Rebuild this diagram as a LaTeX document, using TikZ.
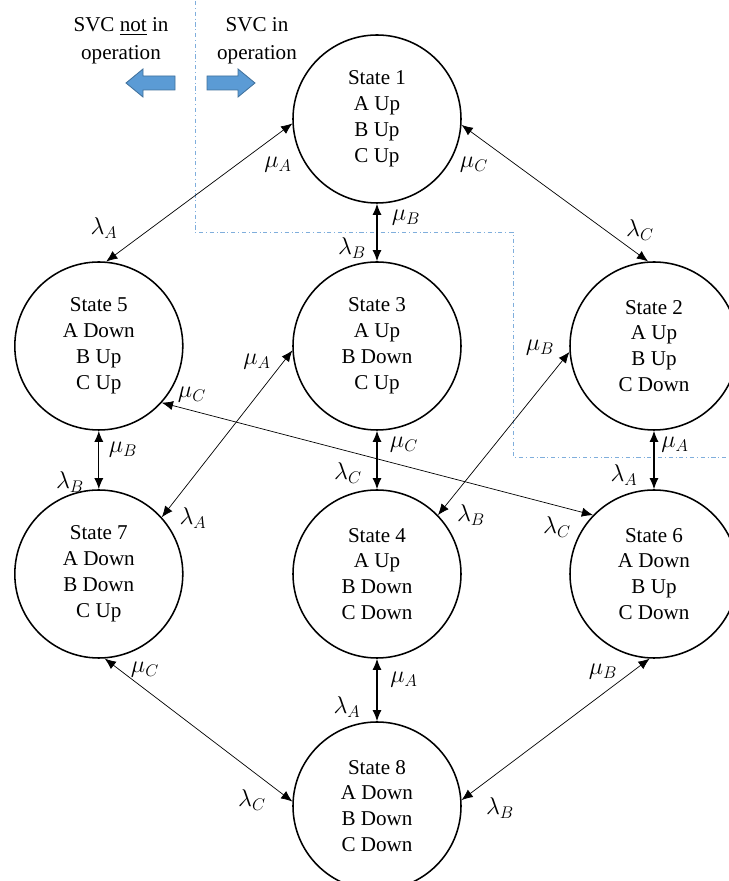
\documentclass[tikz,border=0pt]{standalone}
\usepackage{fontspec}
\setmainfont{Liberation Serif}
\usetikzlibrary{arrows.meta}
\definecolor{svcblue}{HTML}{5B9BD5}
\definecolor{svcedge}{HTML}{41719C}
\definecolor{svcline}{HTML}{7FAEDC}

\begin{document}
\begin{tikzpicture}[
    state/.style={draw, circle, line width=1.1pt, minimum size=4.2cm, inner sep=0pt,
                  align=center, font=\fontsize{15}{18.4}\selectfont},
    rate/.style={inner sep=1pt, font=\fontsize{17}{20}\selectfont},
    trans/.style={{Latex[length=2.8mm,width=2.3mm]}-{Latex[length=2.8mm,width=2.3mm]}, line width=0.5pt},
    vtrans/.style={trans, line width=0.9pt},
    boundary/.style={draw=svcline, line width=0.6pt, dash dot},
    legend/.style={align=center, font=\fontsize{15}{19.9}\selectfont},
    blockarrow/.style={fill=svcblue, draw=svcedge, line width=0.6pt}
  ]
    \useasboundingbox (0,0) rectangle (18.2,22.025);

    % operating boundary of the SVC
    \draw[boundary] (4.875,22.0) -- (4.875,16.225) -- (12.825,16.225)
                    -- (12.825,10.6) -- (18.2,10.6);

    % legend
    \node[legend] (off) at (3.025,21.0) {SVC \underline{not} in\\operation};
    \node[legend] (on)  at (6.425,21.0) {SVC in\\operation};
    \filldraw[blockarrow] (3.15,19.95) -- (3.575,20.3) -- (3.575,20.125) -- (4.375,20.125)
                          -- (4.375,19.775) -- (3.575,19.775) -- (3.575,19.6) -- cycle;
    \filldraw[blockarrow] (6.375,19.95) -- (5.95,20.3) -- (5.95,20.125) -- (5.175,20.125)
                          -- (5.175,19.775) -- (5.95,19.775) -- (5.95,19.6) -- cycle;

    % states
    \node[state] (s1) at (9.425,19.05)  {State 1\\A Up\\B Up\\C Up};
    \node[state] (s5) at (2.47, 13.375) {State 5\\A Down\\B Up\\C Up};
    \node[state] (s3) at (9.425,13.375) {State 3\\A Up\\B Down\\C Up};
    \node[state] (s2) at (16.35,13.375) {State 2\\A Up\\B Up\\C Down};
    \node[state] (s7) at (2.47, 7.675)  {State 7\\A Down\\B Down\\C Up};
    \node[state] (s4) at (9.425,7.675)  {State 4\\A Up\\B Down\\C Down};
    \node[state] (s6) at (16.35,7.675)  {State 6\\A Down\\B Up\\ C Down};
    \node[state] (s8) at (9.425,1.875)  {State 8\\A Down\\B Down\\C Down};

    % transitions
    \draw[trans]  (s1.183) -- (s5.85);
    \draw[trans]  (s1.-4)  -- (s2.94);
    \draw[vtrans] (s1) -- (s3);
    \draw[vtrans] (s5) -- (s7);
    \draw[vtrans] (s3) -- (s4);
    \draw[vtrans] (s2) -- (s6);
    \draw[vtrans] (s4) -- (s8);
    \draw[trans]  (s3.183) -- (s7.42);
    \draw[trans]  (s2.184) -- (s4.44);
    \draw[trans]  (s5.-42) -- (s6.136);
    \draw[trans]  (s7.-86) -- (s8.177);
    \draw[trans]  (s6.-93) -- (s8.4);

    % rates
    \node[rate] (mu15) at (6.95,17.9)   {$\mu_A$};
    \node[rate] (la15) at (2.6,16.325)  {$\lambda_A$};
    \node[rate] (mu12) at (11.85,17.9)  {$\mu_C$};
    \node[rate] (la12) at (16.0,16.275) {$\lambda_C$};
    \node[rate] (mu13) at (10.15,16.575) {$\mu_B$};
    \node[rate] (la13) at (8.8,15.825)  {$\lambda_B$};
    \node[rate] (mu57) at (3.075,10.775) {$\mu_B$};
    \node[rate] (la57) at (1.75,9.975)  {$\lambda_B$};
    \node[rate] (mu34) at (10.1,10.9)   {$\mu_C$};
    \node[rate] (la34) at (8.7,10.2)    {$\lambda_C$};
    \node[rate] (mu26) at (16.875,10.9) {$\mu_A$};
    \node[rate] (la26) at (15.6,10.15)  {$\lambda_A$};
    \node[rate] (mu37) at (6.425,12.975) {$\mu_A$};
    \node[rate] (la37) at (4.825,9.075) {$\lambda_A$};
    \node[rate] (mu24) at (13.5,13.325) {$\mu_B$};
    \node[rate] (la24) at (11.775,9.15) {$\lambda_B$};
    \node[rate] (mu56) at (4.8,12.15)   {$\mu_C$};
    \node[rate] (la56) at (13.925,8.85) {$\lambda_C$};
    \node[rate] (mu78) at (3.625,5.275) {$\mu_C$};
    \node[rate] (la78) at (6.3,2.025)   {$\lambda_C$};
    \node[rate] (mu68) at (15.075,5.225) {$\mu_B$};
    \node[rate] (la68) at (12.5,1.825)  {$\lambda_B$};
    \node[rate] (mu48) at (10.1,5.025)  {$\mu_A$};
    \node[rate] (la48) at (8.675,4.35)  {$\lambda_A$};
  \end{tikzpicture}
\end{document}
